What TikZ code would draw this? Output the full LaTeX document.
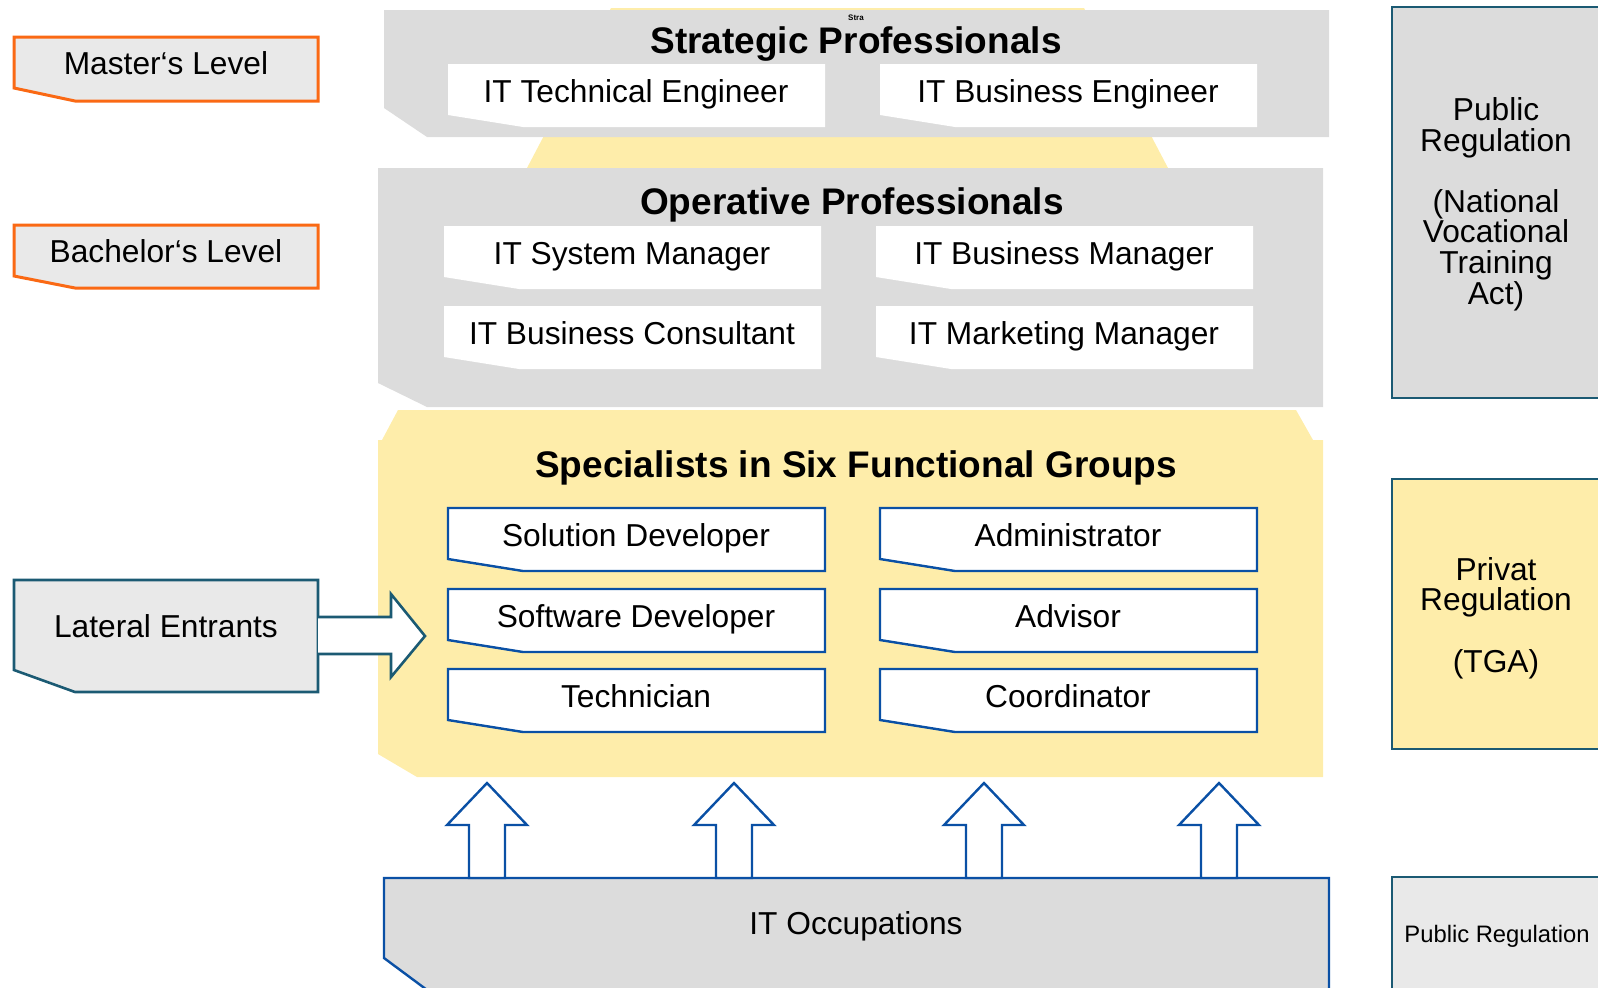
\documentclass[tikz,border=0pt]{standalone}
\usepackage{fontspec}
\setmainfont{Liberation Sans}
\usepackage{tikz}

\definecolor{panelgray}{RGB}{220,220,220}
\definecolor{boxgray}{RGB}{233,233,233}
\definecolor{pyryellow}{RGB}{254,237,170}
\definecolor{orangeline}{RGB}{250,105,20}
\definecolor{tealline}{RGB}{27,90,115}
\definecolor{blueline}{RGB}{10,80,165}

\begin{document}
\begin{tikzpicture}[x=0.5pt, y=-0.5pt,
    boxtext/.style={anchor=base, inner sep=0pt, font=\fontsize{15.85}{19}\selectfont},
    title/.style={anchor=base, inner sep=0pt, font=\bfseries\fontsize{18.5}{22}\selectfont},
    regtext/.style={align=center, inner sep=0pt, font=\fontsize{15.85}{15.3}\selectfont},
    levelbox/.style={draw=orangeline, fill=boxgray, line width=1.5pt},
    sidebox/.style={draw=tealline, line width=1.3pt},
    specbox/.style={draw=blueline, fill=white, line width=1.2pt},
    blockarrow/.style={draw=blueline, fill=white, line width=1.2pt, line join=miter}]

    \useasboundingbox (0,0) rectangle (1598,987);
    \clip (0,0) rectangle (1598,987);

    % pyramid behind the panels
    \fill[pyryellow] (611,8) -- (1084,8) -- (1168,168) -- (527,168) -- cycle;
    \fill[pyryellow] (398,410) -- (1296,410) -- (1313,440) -- (382,440) -- cycle;

    % strategic professionals
    \fill[panelgray] (384,10) -- (1329,10) -- (1329,137) -- (427,137) -- (384,108) -- cycle;
    \node[font=\bfseries\fontsize{4}{5}\selectfont, inner sep=0pt] (stra) at (856,18) {Stra};
    \node[title] (strategic) at (856,53) {Strategic Professionals};
    \foreach \x/\y/\nm/\txt in {448/64/ite/IT Technical Engineer, 880/64/ibe/IT Business Engineer} {
        \fill[white] (\x,\y) -- ++(377,0) -- ++(0,63) -- ++(-302,0) -- ++(-75,-12) -- cycle;
        \node[boxtext] (\nm) at (\x+188,\y+38) {\txt};
    }

    % operative professionals
    \fill[panelgray] (378,168) -- (1323,168) -- (1323,407) -- (427,407) -- (378,383) -- cycle;
    \node[title] (operative) at (852,214) {Operative Professionals};
    \foreach \x/\y/\nm/\txt in {444/226/ism/IT System Manager, 876/226/ibm/IT Business Manager,
        444/306/ibc/IT Business Consultant, 876/306/imm/IT Marketing Manager} {
        \fill[white] (\x,\y) -- ++(377,0) -- ++(0,63) -- ++(-302,0) -- ++(-75,-12) -- cycle;
        \node[boxtext] (\nm) at (\x+188,\y+38) {\txt};
    }

    % specialists
    \fill[pyryellow] (378,440) -- (1323,440) -- (1323,777) -- (417,777) -- (378,754) -- cycle;
    \node[title] (specialists) at (856,477) {Specialists in Six Functional Groups};
    \foreach \x/\y/\nm/\txt in {448/508/sol/Solution Developer, 880/508/adm/Administrator,
        448/589/sof/Software Developer, 880/589/adv/Advisor,
        448/669/tec/Technician, 880/669/coo/Coordinator} {
        \filldraw[specbox] (\x,\y) -- ++(377,0) -- ++(0,63) -- ++(-302,0) -- ++(-75,-12) -- cycle;
        \node[boxtext] (\nm) at (\x+188,\y+38) {\txt};
    }

    % it occupations
    \filldraw[draw=blueline, fill=panelgray, line width=1.2pt]
        (384,878) -- (1329,878) -- (1329,1010) -- (454,1010) -- (384,958) -- cycle;
    \node[boxtext] (itocc) at (856,934) {IT Occupations};
    \foreach \cx in {487,734,984,1219} {
        \filldraw[blockarrow] (\cx-18,878) -- (\cx-18,825) -- (\cx-40,825) -- (\cx,783)
            -- (\cx+40,825) -- (\cx+18,825) -- (\cx+18,878) -- cycle;
    }

    % levels on the left
    \filldraw[levelbox] (14,37) -- (318,37) -- (318,101) -- (75,101) -- (14,88) -- cycle;
    \node[boxtext] (master) at (166,74) {Master‘s Level};
    \filldraw[levelbox] (14,225) -- (318,225) -- (318,288) -- (75,288) -- (14,276) -- cycle;
    \node[boxtext] (bachelor) at (166,262) {Bachelor‘s Level};

    % lateral entrants
    \filldraw[sidebox, fill=boxgray] (14,580) -- (318,580) -- (318,692) -- (75,692) -- (14,670) -- cycle;
    \node[boxtext] (lateral) at (166,637) {Lateral Entrants};
    \filldraw[sidebox, fill=white, line join=miter] (318,617) -- (391,617) -- (391,594) -- (425,636)
        -- (391,677) -- (391,654) -- (318,654);

    % regulation on the right
    \filldraw[sidebox, fill=panelgray] (1392,7) rectangle (1620,398);
    \node[regtext] (pubreg) at (1496,204) {Public\\Regulation\\[15.3pt](National\\Vocational\\Training\\Act)};
    \filldraw[sidebox, fill=pyryellow] (1392,479) rectangle (1620,749);
    \node[regtext] (privreg) at (1496,618) {Privat\\Regulation\\[15.3pt](TGA)};
    \filldraw[sidebox, fill=boxgray] (1392,877) rectangle (1620,1010);
    \node[inner sep=0pt, font=\fontsize{11.9}{14}\selectfont] (pubreg2) at (1497,936) {Public Regulation};

\end{tikzpicture}
\end{document}
